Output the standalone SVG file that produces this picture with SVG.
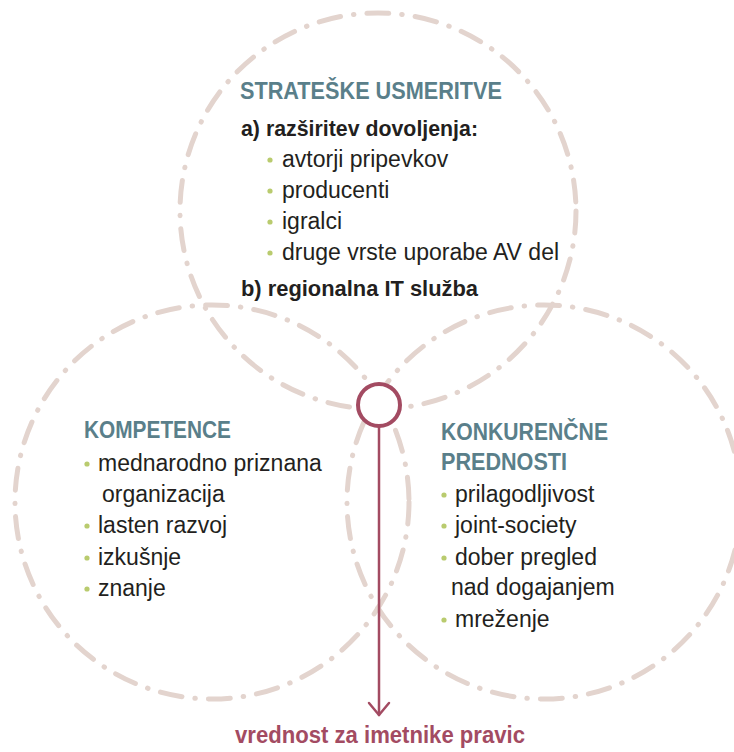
<svg xmlns="http://www.w3.org/2000/svg" width="734" height="752" viewBox="0 0 734 752">
<style>
.ring{fill:none;stroke:#e3d4ce;stroke-width:5;stroke-linecap:round;stroke-dasharray:22 13 0.5 13}
.h{font-family:"Liberation Sans",Arial,sans-serif;font-weight:bold;font-size:23px;fill:#5a7f8a}
.b{font-family:"Liberation Sans",Arial,sans-serif;font-weight:bold;font-size:22.5px;fill:#231f20}
.t{font-family:"Liberation Sans",Arial,sans-serif;font-size:23px;fill:#231f20}
.dot{fill:#b9cb6e}
.lbl{font-family:"Liberation Sans",Arial,sans-serif;font-weight:bold;font-size:23px;fill:#a34b62}
.conn{fill:none;stroke:#a34b62;stroke-width:2.5;stroke-linecap:round;stroke-linejoin:round}
</style>
<rect width="734" height="752" fill="#ffffff"/>
<g id="circles">
<circle class="ring" cx="378" cy="211" r="198"/>
<circle class="ring" cx="212" cy="502" r="197"/>
<circle class="ring" cx="544" cy="502" r="197"/>
</g>
<g id="node-strateske">
<text class="h" x="240" y="99" textLength="262" lengthAdjust="spacingAndGlyphs">STRATEŠKE USMERITVE</text>
<text class="b" x="241" y="136" textLength="237" lengthAdjust="spacingAndGlyphs">a) razširitev dovoljenja:</text>
<circle class="dot" cx="270" cy="160" r="2.6"/>
<text class="t" x="282" y="167">avtorji pripevkov</text>
<circle class="dot" cx="270" cy="191" r="2.6"/>
<text class="t" x="282" y="198">producenti</text>
<circle class="dot" cx="270" cy="222" r="2.6"/>
<text class="t" x="282" y="229">igralci</text>
<circle class="dot" cx="270" cy="253" r="2.6"/>
<text class="t" x="282" y="260">druge vrste uporabe AV del</text>
<text class="b" x="241" y="296" textLength="237" lengthAdjust="spacingAndGlyphs">b) regionalna IT služba</text>
</g>
<g id="node-kompetence">
<text class="h" x="84" y="438" textLength="147" lengthAdjust="spacingAndGlyphs">KOMPETENCE</text>
<circle class="dot" cx="87" cy="464" r="2.6"/>
<text class="t" x="98" y="471">mednarodno priznana</text>
<text class="t" x="102" y="502">organizacija</text>
<circle class="dot" cx="87" cy="526" r="2.6"/>
<text class="t" x="98" y="533">lasten razvoj</text>
<circle class="dot" cx="87" cy="558" r="2.6"/>
<text class="t" x="98" y="565">izkušnje</text>
<circle class="dot" cx="87" cy="589" r="2.6"/>
<text class="t" x="98" y="596">znanje</text>
</g>
<g id="node-konkurencne">
<text class="h" x="441" y="440" textLength="167" lengthAdjust="spacingAndGlyphs">KONKURENČNE</text>
<text class="h" x="441" y="470" textLength="126" lengthAdjust="spacingAndGlyphs">PREDNOSTI</text>
<circle class="dot" cx="444" cy="495" r="2.6"/>
<text class="t" x="455" y="502">prilagodljivost</text>
<circle class="dot" cx="444" cy="526" r="2.6"/>
<text class="t" x="455" y="533">joint-society</text>
<circle class="dot" cx="444" cy="558" r="2.6"/>
<text class="t" x="455" y="565">dober pregled</text>
<text class="t" x="451" y="595">nad dogajanjem</text>
<circle class="dot" cx="444" cy="620" r="2.6"/>
<text class="t" x="455" y="627">mreženje</text>
</g>
<g id="connectors">
<line class="conn" x1="379" y1="426" x2="379" y2="715"/>
<polyline class="conn" points="369,703 379,715 389,703"/>
</g>
<g id="node-center">
<circle cx="379" cy="405" r="21" fill="#ffffff" stroke="#a34b62" stroke-width="4"/>
</g>
<g id="node-vrednost">
<text class="lbl" x="235" y="743" textLength="290" lengthAdjust="spacingAndGlyphs">vrednost za imetnike pravic</text>
</g>
</svg>
